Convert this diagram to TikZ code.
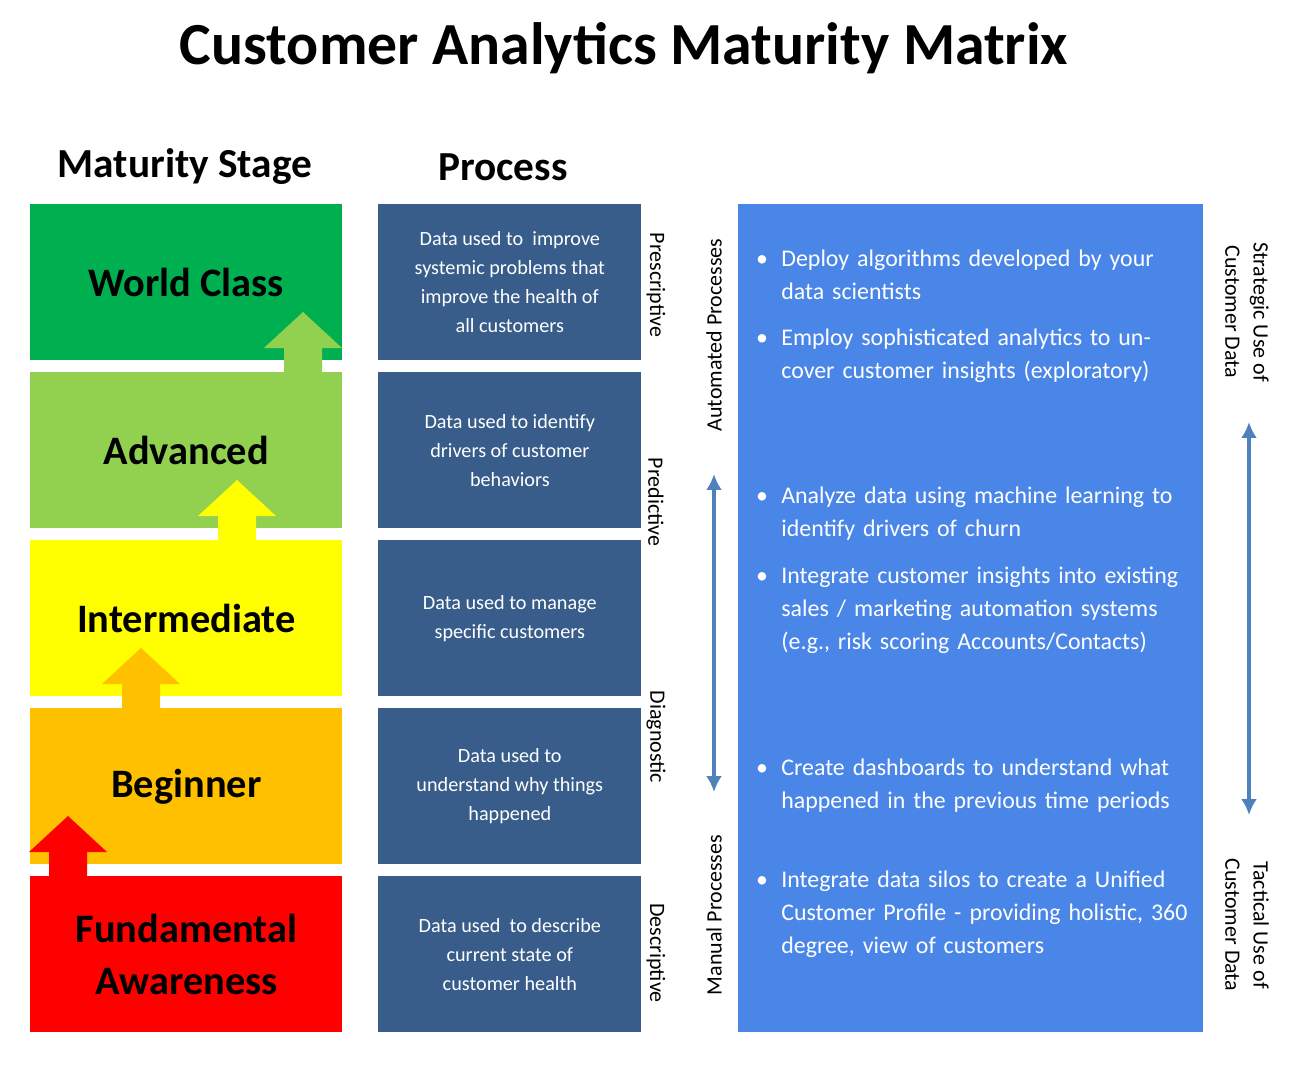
\documentclass[tikz,border=0pt]{standalone}
\usepackage{fontspec}
\setmainfont{Carlito}
\usetikzlibrary{arrows.meta}
\definecolor{wclass}{HTML}{00B050}
\definecolor{adv}{HTML}{92D050}
\definecolor{interm}{HTML}{FFFF00}
\definecolor{begin}{HTML}{FFC000}
\definecolor{fund}{HTML}{FF0000}
\definecolor{procblue}{HTML}{385D8A}
\definecolor{panelblue}{HTML}{4A86E8}
\definecolor{axisblue}{HTML}{4F81BD}
\newcommand{\stagearrow}[3]{% centre x, tip y, colour
\fill[#3] (#1,#2) -- ++(39,36) -- ++(-20,0) -- ++(0,24) -- ++(-38,0) -- ++(0,-24) -- ++(-20,0) -- cycle;}
\tikzset{
  stage/.style={minimum width=6.24cm, minimum height=3.12cm, anchor=north west, inner sep=0pt,
    font=\fontsize{23}{28}\selectfont\bfseries, align=center},
  proc/.style={fill=procblue, minimum width=5.26cm, minimum height=3.12cm, anchor=north west,
    inner sep=0pt, text=white, align=center, font=\fontsize{11.5}{16.5}\selectfont},
  side/.style={font=\fontsize{12.5}{16}\selectfont, align=center},
  item/.style={anchor=base west, text=white, text width=8.3cm, align=left, inner sep=0pt,
    font=\fontsize{13.6}{18.8}\selectfont},
  dot/.style={anchor=base, text=white, inner sep=0pt, font=\fontsize{13.6}{18.8}\selectfont},
  head/.style={font=\fontsize{23.5}{28}\selectfont\bfseries},
  axis/.style={draw=axisblue, line width=2.2pt, {Latex[length=9pt,width=9pt]}-{Latex[length=9pt,width=9pt]}}
}
\begin{document}
\begin{tikzpicture}[x=0.02cm, y=-0.02cm]
\useasboundingbox (0,0) rectangle (1298,1080);
\node[font=\fontsize{34}{40}\selectfont\bfseries] (title) at (624,48) {Customer Analytics Maturity Matrix};
\node[head] (hstage) at (185,167) {Maturity Stage};
\node[head] (hproc) at (503,167) {Process};
% stages
\node[stage, fill=wclass] (world) at (30,204) {World Class};
\node[stage, fill=adv] (adv) at (30,372) {Advanced};
\node[stage, fill=interm] (inter) at (30,540) {Intermediate};
\node[stage, fill=begin] (beg) at (30,708) {Beginner};
\node[stage, fill=fund] (fund) at (30,876) {Fundamental\\[2pt]Awareness};
\stagearrow{68}{816}{fund}
\stagearrow{141}{648}{begin}
\stagearrow{237}{480}{interm}
\stagearrow{303}{312}{adv}
% processes
\node[proc] (p1) at (378,204) {Data used to\ \ improve\\systemic problems that\\improve the health of\\all customers};
\node[proc] (p2) at (378,372) {Data used to identify\\drivers of customer\\behaviors};
\node[proc] (p3) at (378,540) {Data used to manage\\specific customers};
\node[proc] (p4) at (378,708) {Data used to\\understand why things\\happened};
\node[proc] (p5) at (378,876) {Data used\ \ to describe\\current state of\\customer health};
\node[side, rotate=-90] (l1) at (656,285) {Prescriptive};
\node[side, rotate=-90] (l2) at (656,502) {Predictive};
\node[side, rotate=-90] (l3) at (656,737) {Diagnostic};
\node[side, rotate=-90] (l4) at (656,953) {Descriptive};
% automation axis
\node[side, rotate=90] (auto) at (714,335) {Automated Processes};
\node[side, rotate=90] (manual) at (714,915) {Manual Processes};
\coordinate (a1) at (714,474);
\coordinate (a2) at (714,792);
\draw[axis] (a1) -- (a2);
% panel
\fill[panelblue] (738,204) rectangle (1203,1032);
\foreach \y/\t in {
  266/{Deploy algorithms developed by your data scientists},
  345/{Employ sophisticated analytics to uncover customer insights (exploratory)},
  503/{Analyze data using machine learning to identify drivers of churn},
  583/{Integrate customer insights into existing sales / marketing automation systems (e.g., risk scoring Accounts/Contacts)},
  775/{Create dashboards to understand what happened in the previous time periods},
  887/{Integrate data silos to create a Unified Customer Profile - providing holistic, 360 degree, view of customers}}{
  \node[dot] at (762,\y) {•};
  \node[item] at (781,\y) {\t};
}
% strategic axis
\node[side, rotate=-90] (strat) at (1247,312) {Strategic Use of\\Customer Data};
\node[side, rotate=-90] (tact) at (1247,925) {Tactical Use of\\Customer Data};
\coordinate (s1) at (1249,422);
\coordinate (s2) at (1249,815);
\draw[axis] (s1) -- (s2);
\end{tikzpicture}
\end{document}
